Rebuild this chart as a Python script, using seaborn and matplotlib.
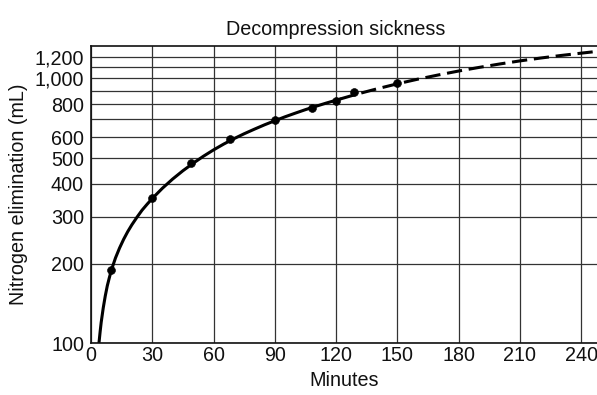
import matplotlib.pyplot as plt
import matplotlib.ticker as mticker
import seaborn as sns
import numpy as np
import pandas as pd

# measured points (minutes, mL)
pt_minutes = [10, 30, 49, 68, 90, 108, 120, 129, 150]
pt_nitrogen = [189, 354, 478, 588, 694, 775, 822, 889, 961]

# fitted curve, solid part
solid_minutes = [3.9, 4.5, 5, 6, 7, 8, 9, 10, 12, 14, 16, 18, 20, 22.5, 25, 27.5,
                 30, 35, 40, 45, 50, 55, 60, 65, 70, 75, 80, 85, 90, 95, 100, 105,
                 110, 115, 122]
solid_nitrogen = [100, 111, 120, 136, 151, 165, 177, 189, 210, 229, 247, 264, 280,
                  299, 318, 335, 352, 385, 417, 448, 478, 508, 537, 565, 592, 618,
                  643, 668, 692, 716, 739, 762, 784, 806, 836]

# extrapolated part (dashed)
dash_minutes = [122, 130, 140, 150, 160, 170, 180, 190, 200, 210, 220, 230, 240, 248]
dash_nitrogen = [836, 871, 913, 954, 993, 1030, 1066, 1100, 1133, 1164, 1193,
                 1220, 1245, 1265]

x_ticks = [0, 30, 60, 90, 120, 150, 180, 210, 240]
y_ticks = [100, 200, 300, 400, 500, 600, 800, 1000, 1200]
y_labels = ['100', '200', '300', '400', '500', '600', '800', '1,000', '1,200']
y_minor = [700, 900, 1100]

sns.set_style('white')
plt.rcParams['font.family'] = ['Liberation Sans', 'DejaVu Sans']

fig = plt.figure(figsize=(5.97, 3.95), dpi=100)
ax = fig.add_axes([0.1524, 0.1309, 0.8476, 0.7526])

pts = pd.DataFrame({'min': pt_minutes, 'n2': pt_nitrogen})
solid = pd.DataFrame({'min': solid_minutes, 'n2': solid_nitrogen})
dash = pd.DataFrame({'min': dash_minutes, 'n2': dash_nitrogen})

sns.lineplot(data=solid, x='min', y='n2', color='black', lw=2.2, sort=False, ax=ax)
sns.lineplot(data=dash, x='min', y='n2', color='black', lw=2.2, sort=False,
             linestyle=(0, (5, 2.2)), ax=ax)
sns.scatterplot(data=pts, x='min', y='n2', color='black', s=32, edgecolor='black',
                zorder=5, ax=ax)

ax.set_yscale('log')
ax.set_xlim(0, 247.8)
ax.set_ylim(100, 1325)
ax.xaxis.set_major_locator(mticker.FixedLocator(x_ticks))
ax.yaxis.set_major_locator(mticker.FixedLocator(y_ticks))
ax.yaxis.set_major_formatter(mticker.FixedFormatter(y_labels))
ax.yaxis.set_minor_locator(mticker.FixedLocator(y_minor))
ax.yaxis.set_minor_formatter(mticker.NullFormatter())

ax.grid(True, which='both', color='#333333', lw=0.9)
ax.tick_params(axis='both', which='both', length=0, labelsize=14.2, colors='#111')
ax.tick_params(axis='y', pad=5)
ax.tick_params(axis='x', pad=2)

for s in ['left', 'bottom', 'top']:
    ax.spines[s].set_color('#111')
    ax.spines[s].set_linewidth(1.2)
ax.spines['right'].set_visible(False)

ax.set_xlabel('Minutes', fontsize=14.2, color='#111', labelpad=4)
ax.set_ylabel('Nitrogen elimination (mL)', fontsize=14.2, color='#111', labelpad=5)
ax.set_title('Decompression sickness', fontsize=14.2, color='#111', pad=8, x=0.484)

fig.savefig('out.png', dpi=100)
